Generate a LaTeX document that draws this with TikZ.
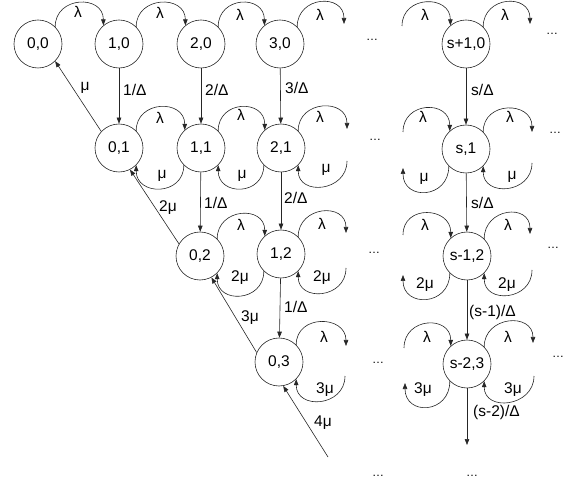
\documentclass[tikz,border=0pt]{standalone}
\usepackage{fontspec}
\setmainfont{Liberation Sans}
\usetikzlibrary{arrows.meta,calc}
\begin{document}
\begin{tikzpicture}[x=1pt,y=-1pt,
  st/.style={circle,draw=black!85,line width=0.6pt,minimum size=48pt,inner sep=0pt,font=\fontsize{15.5}{18}\selectfont},
  lab/.style={inner sep=0pt,font=\fontsize{15.5}{18}\selectfont},
  vlab/.style={lab,anchor=west},
  arr/.style={draw=black!85,line width=0.6pt,-{Triangle[length=6pt,width=4.5pt]}},
  dotsl/.style={inner sep=0pt,font=\fontsize{12}{14}\selectfont}
]
\useasboundingbox (0,0) rectangle (573,486);
% states
\node[st] (n00) at (38,44) {0,0};
\node[st] (n10) at (119,44) {1,0};
\node[st] (n20) at (201,44) {2,0};
\node[st] (n30) at (280,44) {3,0};
\node[st] (ns0) at (466,44) {s+1,0};
\node[st] (n01) at (119,148) {0,1};
\node[st] (n11) at (201,148) {1,1};
\node[st] (n21) at (281,148) {2,1};
\node[st] (ns1) at (466,149) {s,1};
\node[st] (n02) at (200,256) {0,2};
\node[st] (n12) at (281,254) {1,2};
\node[st] (ns2) at (467,256) {s-1,2};
\node[st] (n03) at (279,362) {0,3};
\node[st] (ns3) at (467,364) {s-2,3};
% free ends
\coordinate (r30) at ($(n30)+(64,-20)$);
\coordinate (ls0) at ($(ns0)+(-64,-18)$);
\coordinate (rs0) at ($(ns0)+(64,-20)$);
\coordinate (r21a) at ($(n21)+(66,-19)$);
\coordinate (r21b) at ($(n21)+(66,13)$);
\coordinate (ls1a) at ($(ns1)+(-63,-17)$);
\coordinate (ls1b) at ($(ns1)+(-63,19)$);
\coordinate (rs1a) at ($(ns1)+(66,-17)$);
\coordinate (rs1b) at ($(ns1)+(66,14)$);
\coordinate (r12a) at ($(n12)+(65,-21)$);
\coordinate (r12b) at ($(n12)+(65,14)$);
\coordinate (ls2a) at ($(ns2)+(-64,-21)$);
\coordinate (ls2b) at ($(ns2)+(-64,19)$);
\coordinate (rs2a) at ($(ns2)+(63,-22)$);
\coordinate (rs2b) at ($(ns2)+(65,14)$);
\coordinate (r03a) at ($(n03)+(67,-16)$);
\coordinate (r03b) at ($(n03)+(66,14)$);
\coordinate (ls3a) at ($(ns3)+(-63,-16)$);
\coordinate (ls3b) at ($(ns3)+(-62,19)$);
\coordinate (rs3a) at ($(ns3)+(66,-21)$);
\coordinate (rs3b) at ($(ns3)+(67,12)$);
\coordinate (d4) at (328,457);
\coordinate (ds3) at (467,445);
% lambda arcs row 0
\draw[arr] (n00.45) .. controls +(0,-31) and +(0,-31) .. (n10.130);
\draw[arr] (n10.45) .. controls +(0,-31) and +(0,-31) .. (n20.130);
\draw[arr] (n20.45) .. controls +(0,-31) and +(0,-31) .. (n30.130);
\draw[arr] (n30.45) .. controls +(0,-31) and +(0,-31) .. (r30);
\draw[arr] (ls0) .. controls +(0,-31) and +(0,-31) .. (ns0.130);
\draw[arr] (ns0.45) .. controls +(0,-31) and +(0,-31) .. (rs0);
% row 1
\draw[arr] (n01.45) .. controls +(0,-31) and +(0,-31) .. (n11.132);
\draw[arr] (n11.45) .. controls +(0,-31) and +(0,-31) .. (n21.132);
\draw[arr] (n21.45) .. controls +(0,-31) and +(0,-31) .. (r21a);
\draw[arr] (n11.225) .. controls +(0,31) and +(0,31) .. (n01.-45);
\draw[arr] (n21.225) .. controls +(0,31) and +(0,31) .. (n11.-45);
\draw[arr] (r21b) .. controls +(0,31) and +(0,31) .. (n21.-45);
\draw[arr] (ls1a) .. controls +(0,-31) and +(0,-31) .. (ns1.132);
\draw[arr] (ns1.45) .. controls +(0,-31) and +(0,-31) .. (rs1a);
\draw[arr] (ns1.225) .. controls +(0,33) and +(0,33) .. (ls1b);
\draw[arr] (rs1b) .. controls +(0,31) and +(0,31) .. (ns1.-45);
% row 2
\draw[arr] (n02.45) .. controls +(0,-31) and +(0,-31) .. (n12.132);
\draw[arr] (n12.45) .. controls +(0,-31) and +(0,-31) .. (r12a);
\draw[arr] (n12.225) .. controls +(0,31) and +(0,31) .. (n02.-45);
\draw[arr] (r12b) .. controls +(0,31) and +(0,31) .. (n12.-45);
\draw[arr] (ls2a) .. controls +(0,-31) and +(0,-31) .. (ns2.132);
\draw[arr] (ns2.45) .. controls +(0,-31) and +(0,-31) .. (rs2a);
\draw[arr] (ns2.225) .. controls +(0,33) and +(0,33) .. (ls2b);
\draw[arr] (rs2b) .. controls +(0,31) and +(0,31) .. (ns2.-45);
% row 3
\draw[arr] (n03.45) .. controls +(0,-31) and +(0,-31) .. (r03a);
\draw[arr] (r03b) .. controls +(0,31) and +(0,31) .. (n03.-45);
\draw[arr] (ls3a) .. controls +(0,-31) and +(0,-31) .. (ns3.132);
\draw[arr] (ns3.45) .. controls +(0,-31) and +(0,-31) .. (rs3a);
\draw[arr] (ns3.225) .. controls +(0,33) and +(0,33) .. (ls3b);
\draw[arr] (rs3b) .. controls +(0,31) and +(0,31) .. (ns3.-45);
% vertical arrows
\draw[arr] (n10) -- (n01);
\draw[arr] (n20) -- (n11);
\draw[arr] (n30) -- (n21);
\draw[arr] (ns0) -- (ns1);
\draw[arr] (n11) -- (n02);
\draw[arr] (n21) -- (n12);
\draw[arr] (ns1) -- (ns2);
\draw[arr] (n12) -- (n03);
\draw[arr] (ns2) -- (ns3);
\draw[arr] (ns3) -- (ds3);
% diagonal arrows
\draw[arr] (n01.137) -- (n00.-45);
\draw[arr] (n02.150) -- (n01.-63);
\draw[arr] (n03.157) -- (n02.-62);
\draw[arr] (d4) -- (n03.-80);
% labels
\foreach \p in {(78,12),(160,13),(240,15),(320,15),(425,15),(505,15),
  (160,118),(241,115),(320,117),(423,117),(510,117),
  (241,225),(322,224),(425,225),(508,225),
  (324,337),(427,337),(508,337)}
  \node[lab] at \p {λ};
\foreach \p in {(85,88),(162,176),(242,176),(326,170),(424,179),(512,177)}
  \node[lab] at \p {μ};
\foreach \p in {(168,208),(240,278),(322,278),(425,285),(507,285)}
  \node[lab] at \p {2μ};
\foreach \p in {(250,318),(325,390),(423,390),(513,390)}
  \node[lab] at \p {3μ};
\node[lab] at (323,423) {4μ};
\node[vlab] at (123,90) {1/Δ};
\node[vlab] at (205,90) {2/Δ};
\node[vlab] at (285,88) {3/Δ};
\node[vlab] at (471,90) {s/Δ};
\node[vlab] at (204,203) {1/Δ};
\node[vlab] at (284,198) {2/Δ};
\node[vlab] at (471,203) {s/Δ};
\node[vlab] at (284,307) {1/Δ};
\node[vlab] at (469,312) {(s-1)/Δ};
\node[vlab] at (473,412) {(s-2)/Δ};
% ellipses
\foreach \p in {(372,40),(552,34),(375,140),(555,133),(374,253),(553,248),(378,363),(558,357),(378,476),(472,476)}
  \node[dotsl] at \p {…};
\end{tikzpicture}
\end{document}
